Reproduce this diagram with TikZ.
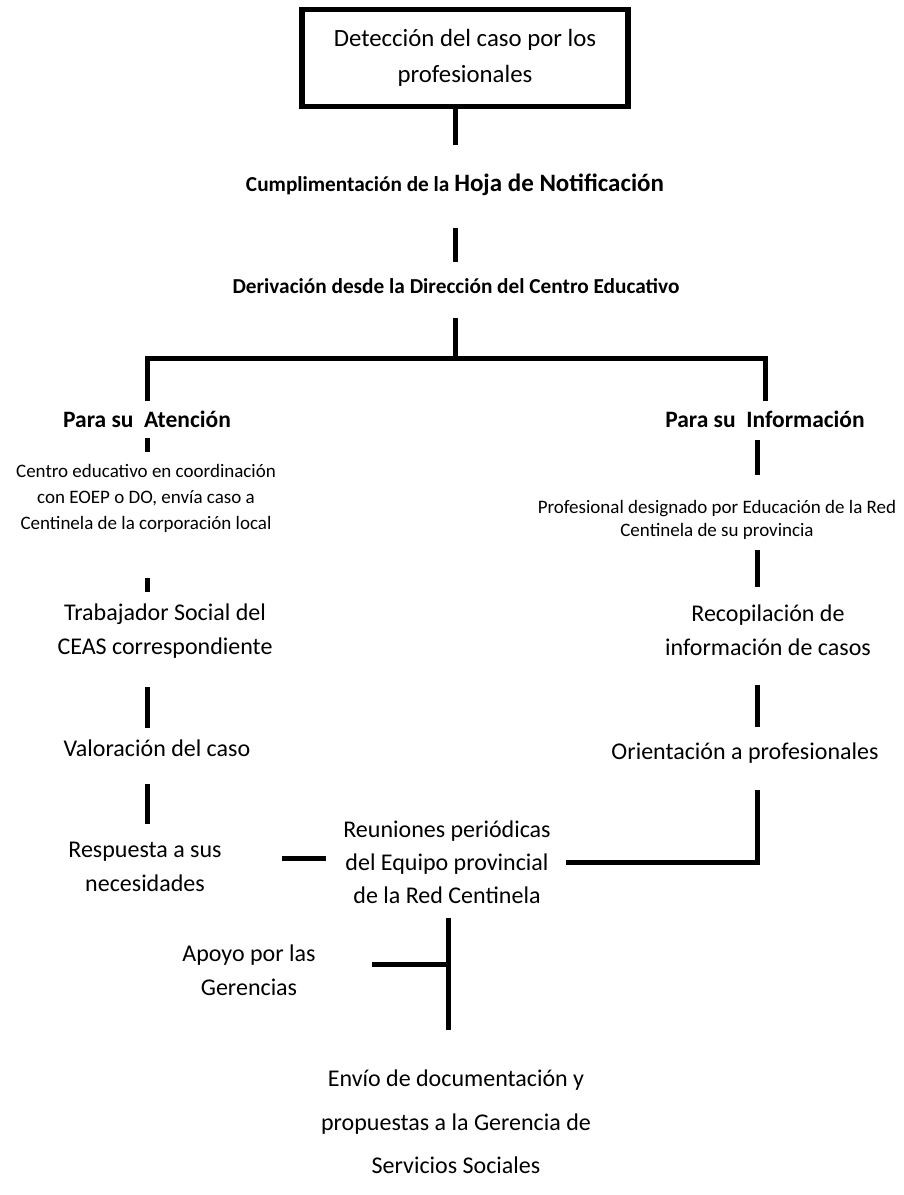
\documentclass[tikz,border=0pt]{standalone}
\usepackage{fontspec}
\setmainfont{Carlito}
\begin{document}
\begin{tikzpicture}[x=1pt,y=-1pt,
  every node/.style={inner sep=0pt, align=center, text=black},
  body/.style={font=\fontsize{24}{34}\selectfont},
  small/.style={font=\fontsize{19}{26}\selectfont},
  head/.style={font=\bfseries\fontsize{23.5}{28}\selectfont},
  conn/.style={line width=5pt, black},
  boxed/.style={draw, line width=5.5pt, minimum width=326pt, minimum height=97pt}
]
\useasboundingbox (0,0) rectangle (903,1195);

% nodes
\node[boxed, font=\fontsize{24.8}{36}\selectfont] (det) at (465,58) {Detección del caso por los\\profesionales};
\node[font=\bfseries\fontsize{21.3}{26}\selectfont] (hoja) at (455,185) {Cumplimentación de la {\fontsize{25}{26}\selectfont Hoja de Notificación}};
\node[font=\bfseries\fontsize{21.3}{26}\selectfont] (deriv) at (456,286) {Derivación desde la Dirección del Centro Educativo};
\node[head] (aten) at (147,419) {Para su\ \ Atención};
\node[head] (info) at (765,419) {Para su\ \ Información};
\node[small] (cent) at (146,498) {Centro educativo en coordinación\\con EOEP o DO, envía caso a\\Centinela de la corporación local};
\node[small, font=\fontsize{19}{23}\selectfont] (prof) at (717,520) {Profesional designado por Educación de la Red\\Centinela de su provincia};
\node[body] (trab) at (165,631) {Trabajador Social del\\CEAS correspondiente};
\node[body] (val) at (157,748) {Valoración del caso};
\node[body] (resp) at (145,867) {Respuesta a sus\\necesidades};
\node[body] (reco) at (768,630) {Recopilación de\\información de casos};
\node[body] (ori) at (745,753) {Orientación a profesionales};
\node[body, font=\fontsize{24}{33}\selectfont] (reun) at (447,862) {Reuniones periódicas\\del Equipo provincial\\de la Red Centinela};
\node[body] (apoyo) at (249,970) {Apoyo por las\\Gerencias};
\node[body, font=\fontsize{24}{43.5}\selectfont] (envio) at (456,1122) {Envío de documentación y\\propuestas a la Gerencia de\\Servicios Sociales};

% connector end points
\coordinate (a1) at (455,145);
\coordinate (a2) at (455,228);
\coordinate (a3) at (455,262);
\coordinate (a4) at (455,318);
\coordinate (br) at (455,358);
\coordinate (bl) at (147,358);
\coordinate (brr) at (765,358);
\coordinate (l0) at (147,401);
\coordinate (r0) at (765,401);
\coordinate (l1) at (147,438);
\coordinate (l2) at (147,452);
\coordinate (l3) at (147,578);
\coordinate (l4) at (147,592);
\coordinate (l5) at (147,687);
\coordinate (l6) at (147,728);
\coordinate (l7) at (147,784);
\coordinate (l8) at (147,824);
\coordinate (h1) at (282,858);
\coordinate (h2) at (326,858);
\coordinate (r1) at (757,440);
\coordinate (r2) at (757,475);
\coordinate (r3) at (757,550);
\coordinate (r4) at (757,587);
\coordinate (r5) at (757,685);
\coordinate (r6) at (757,727);
\coordinate (r7) at (757,790);
\coordinate (r8) at (757,862);
\coordinate (r9) at (566,862);
\coordinate (b1) at (448,918);
\coordinate (b2) at (448,1030);
\coordinate (b3) at (448,964);
\coordinate (b4) at (372,964);

% connectors
\draw[conn] (det.south -| a1) -- (a1);
\draw[conn] (a2) -- (a3);
\draw[conn] (a4) -- (br);
\draw[conn] (l0) -- (bl) -- (brr) -- (r0);
\draw[conn] (l1) -- (l2);
\draw[conn] (l3) -- (l4);
\draw[conn] (l5) -- (l6);
\draw[conn] (l7) -- (l8);
\draw[conn] (h1) -- (h2);
\draw[conn] (r1) -- (r2);
\draw[conn] (r3) -- (r4);
\draw[conn] (r5) -- (r6);
\draw[conn] (r7) -- (r8) -- (r9);
\draw[conn] (b1) -- (b2);
\draw[conn] (b3) -- (b4);
\end{tikzpicture}
\end{document}
